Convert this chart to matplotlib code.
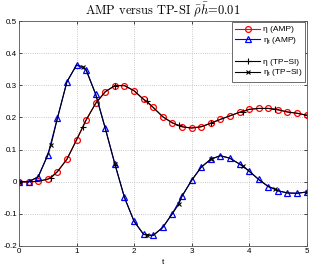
import numpy as np
import matplotlib
matplotlib.use('Agg')
import matplotlib.pyplot as plt
from matplotlib.lines import Line2D
from matplotlib.font_manager import FontProperties

plt.rcParams['font.family'] = ['Liberation Sans', 'DejaVu Sans']
plt.rcParams['mathtext.fontset'] = 'custom'
plt.rcParams['mathtext.rm'] = 'Liberation Sans'
plt.rcParams['mathtext.it'] = 'Liberation Sans:italic'

# AMP samples, one every 1/6
t_amp = np.arange(31) / 6
eta_amp = [0, 0, 0.001, 0.008, 0.031, 0.07, 0.13, 0.192, 0.244, 0.28,
           0.299, 0.299, 0.283, 0.256, 0.231, 0.202, 0.183, 0.171, 0.167, 0.171,
           0.182, 0.194, 0.205, 0.216, 0.225, 0.228, 0.228, 0.224, 0.217, 0.213,
           0.207]
etat_amp = [0, 0, 0.015, 0.083, 0.197, 0.311, 0.363, 0.348, 0.272, 0.166,
            0.055, -0.049, -0.123, -0.164, -0.167, -0.142, -0.099, -0.045, 0.004, 0.045,
            0.07, 0.081, 0.073, 0.055, 0.033, 0.007, -0.015, -0.028, -0.035, -0.036,
            -0.032]

# TP-SI marker samples
t_tpsi = np.arange(10) * 5 / 9
eta_tpsi = [0, 0.012, 0.171, 0.299, 0.25, 0.175, 0.182, 0.218, 0.226, 0.207]
etat_tpsi = [0, 0.114, 0.358, 0.055, -0.166, -0.07, 0.07, 0.05, -0.022, -0.032]

# TP-SI curve follows the same values as AMP between its markers
t_line = np.concatenate([t_amp, t_tpsi])
order = np.argsort(t_line, kind='stable')
t_line = t_line[order]
eta_line = np.concatenate([eta_amp, eta_tpsi])[order]
etat_line = np.concatenate([etat_amp, etat_tpsi])[order]
mk = [int(np.where(order == 31 + i)[0][0]) for i in range(10)]

fig = plt.figure(figsize=(3.14, 2.70), dpi=100)
ax = fig.add_axes([0.0605, 0.0889, 0.916, 0.8333])

ax.plot(t_amp, eta_amp, '-o', color='red', lw=0.8, ms=4.2, mfc='none', mew=0.9,
        label='η (AMP)')
ax.plot(t_amp, etat_amp, '-^', color='blue', lw=0.8, ms=5, mfc='none', mew=0.9,
        label=r'η$_{\mathrm{t}}$ (AMP)')
ax.plot(t_line, eta_line, '-+', color='black', lw=0.8, ms=5, mew=0.8,
        markevery=mk, label='η (TP−SI)')
ax.plot(t_line, etat_line, '-x', color='black', lw=0.8, ms=3.5, mew=0.8,
        markevery=mk, label=r'η$_{\mathrm{t}}$ (TP−SI)')

ax.set_xlim(0, 5)
ax.set_ylim(-0.2, 0.5)
ax.set_xticks([0, 1, 2, 3, 4, 5])
ax.set_yticks([-0.2, -0.1, 0, 0.1, 0.2, 0.3, 0.4, 0.5])
ax.set_yticklabels(['-0.2', '-0.1', '0', '0.1', '0.2', '0.3', '0.4', '0.5'])
ax.tick_params(direction='in', length=2.5, width=0.5, labelsize=5.8, pad=1.5,
               top=True, right=True)
ax.grid(True, linestyle=':', color='#b8b8b8', linewidth=0.6)
for s in ax.spines.values():
    s.set_linewidth(0.6)
    s.set_color('#555555')

ax.set_xlabel('t', fontsize=6, labelpad=2.5)
ax.set_title(r'AMP versus TP-SI $\bar{\rho}\bar{h}$=0.01', fontfamily='cmr10',
             fontsize=9, pad=4.5, math_fontfamily='cm')

h, l = ax.get_legend_handles_labels()
blank = Line2D([], [], linestyle='none')
leg = ax.legend(h[:2] + [blank] + h[2:], l[:2] + [''] + l[2:], loc='upper right',
                prop=FontProperties(family='Liberation Sans', size=6),
                handlelength=3.0, handletextpad=0.3, labelspacing=0.22,
                borderpad=0.4, fancybox=False, framealpha=1, borderaxespad=0.15)
leg.get_frame().set_edgecolor('#555555')
leg.get_frame().set_linewidth(0.6)

fig.savefig('out.png', dpi=100)
